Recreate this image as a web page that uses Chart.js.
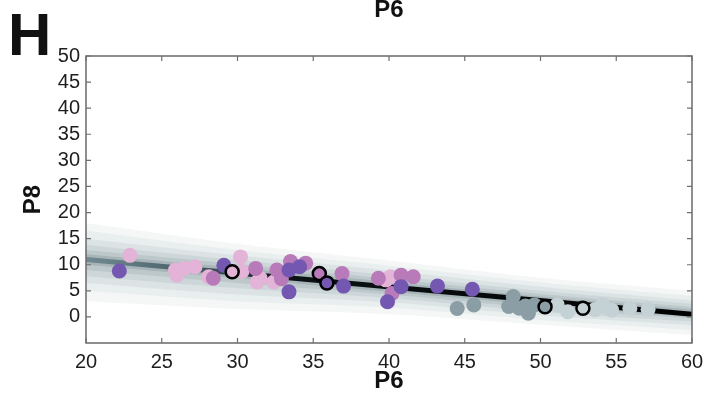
<!DOCTYPE html>
<html>
<head>
<meta charset="utf-8">
<script src="https://cdn.jsdelivr.net/npm/chart.js@4.4.1/dist/chart.umd.min.js"></script>
<style>
  html, body { margin: 0; padding: 0; background: #ffffff; }
  #wrap { width: 724px; height: 402px; }
</style>
</head>
<body>
<div id="wrap"><canvas id="c" width="724" height="402"></canvas></div>
<script>
// ---- tick labels / axis setup ----
const xTicks = [20, 25, 30, 35, 40, 45, 50, 55, 60];
const yTicks = [0, 5, 10, 15, 20, 25, 30, 35, 40, 45, 50];
const panelLetter = 'H';
const titleText = 'P6';
const xTitle = 'P6';
const yTitle = 'P8';

// ---- scatter groups (x = P6, y = P8) ----
const lightPinkX = [22.9, 25.9, 26.5, 27.2, 26.0, 28.1, 30.2, 30.3, 31.5, 31.3, 32.4, 39.8, 40.1];
const lightPinkY = [11.8, 9.0, 9.3, 9.6, 8.0, 7.7, 11.5, 8.7, 7.4, 6.7, 6.7, 7.1, 7.7];

const orchidX = [28.4, 31.2, 32.6, 32.9, 33.5, 34.5, 36.9, 39.3, 40.8, 41.6, 40.2];
const orchidY = [7.4, 9.3, 9.0, 7.3, 10.6, 10.3, 8.3, 7.4, 8.0, 7.7, 4.5];

const purpleX = [22.2, 29.1, 33.4, 34.1, 33.4, 37.0, 39.9, 40.8, 43.2, 45.5];
const purpleY = [8.8, 9.9, 9.0, 9.6, 4.8, 5.9, 2.9, 5.8, 5.9, 5.3];

const greyX = [44.5, 45.6, 48.2, 47.9, 48.6, 49.2, 49.6, 49.0];
const greyY = [1.6, 2.3, 3.9, 2.0, 1.65, 0.7, 2.3, 2.1];

const lightGreyX = [51.1, 51.8, 54.1, 54.7, 55.9, 57.1, 53.6];
const lightGreyY = [2.3, 1.0, 2.3, 1.3, 1.65, 1.45, 1.4];

const hollowX = [29.65, 35.4, 35.9, 50.3, 52.8];
const hollowY = [8.65, 8.3, 6.5, 1.95, 1.65];
const hollowFill = ['#e3b3d8', '#b87ab8', '#7357b1', '#8b9ea5', '#c4d1d5'];

// ---- fitted line and density bands (estimated) ----
const fitX = [20, 60];
const fitY = [11.0, 0.5];
const bandX = [20, 30, 40, 50, 60];
const band1Hi = [18.0, 14.0, 10.8, 7.5, 5.0];
const band1Lo = [3.0, 1.5, 0.5, -1.5, -3.5];
const band2Hi = [16.5, 12.8, 9.8, 6.6, 4.0];
const band2Lo = [5.0, 3.0, 1.8, -0.6, -2.5];
const band3Hi = [15.0, 11.8, 8.9, 5.8, 3.2];
const band3Lo = [6.5, 4.3, 2.8, 0.3, -1.6];
const band4Hi = [13.8, 10.9, 8.0, 5.0, 2.5];
const band4Lo = [7.8, 5.5, 3.6, 1.0, -0.9];
const band5Hi = [12.8, 10.1, 7.3, 4.4, 1.9];
const band5Lo = [9.0, 6.5, 4.3, 1.7, -0.3];
const band6Hi = [12.0, 9.4, 6.7, 3.9, 1.4];
const band6Lo = [10.0, 7.4, 4.8, 2.3, 0.0];

const pts = (xs, ys) => xs.map((x, i) => ({ x, y: ys[i] }));
const FONT = "'Liberation Sans', Arial, Helvetica, sans-serif";

const datasets = [];
function addBand(hi, lo, color, order) {
  const idx = datasets.length;
  datasets.push({
    type: 'scatter', data: pts(bandX, hi), showLine: true, borderWidth: 0,
    borderColor: 'rgba(0,0,0,0)', pointRadius: 0, tension: 0.3,
    fill: { target: idx + 1 }, backgroundColor: color, order
  });
  datasets.push({
    type: 'scatter', data: pts(bandX, lo), showLine: true, borderWidth: 0,
    borderColor: 'rgba(0,0,0,0)', pointRadius: 0, tension: 0.3,
    fill: false, order
  });
}
addBand(band1Hi, band1Lo, 'rgba(80,115,125,0.06)', 30);
addBand(band2Hi, band2Lo, 'rgba(75,110,120,0.07)', 29);
addBand(band3Hi, band3Lo, 'rgba(65,100,110,0.08)', 28);
addBand(band4Hi, band4Lo, 'rgba(55,90,100,0.09)', 27);
addBand(band5Hi, band5Lo, 'rgba(45,75,85,0.11)', 26);
addBand(band6Hi, band6Lo, 'rgba(35,60,68,0.14)', 25);

datasets.push({
  type: 'scatter', data: pts(fitX, fitY), showLine: true, pointRadius: 0,
  borderWidth: 5, fill: false, order: 10,
  borderColor: (ctx) => {
    const chart = ctx.chart; const area = chart.chartArea;
    if (!area) return '#000';
    const xs = chart.scales.x;
    const g = chart.ctx.createLinearGradient(xs.getPixelForValue(20), 0, xs.getPixelForValue(60), 0);
    g.addColorStop(0, 'rgba(60,95,105,0.5)');
    g.addColorStop(0.2, 'rgba(35,60,68,0.8)');
    g.addColorStop(0.33, '#0c1315');
    g.addColorStop(1, '#000000');
    return g;
  }
});

function addGroup(xs, ys, color, order) {
  datasets.push({
    type: 'scatter', data: pts(xs, ys), backgroundColor: color, borderWidth: 0,
    pointRadius: 7.5, pointHoverRadius: 7.5, order
  });
}
addGroup(lightPinkX, lightPinkY, '#e3b3d8', 6);
addGroup(orchidX, orchidY, '#b87ab8', 5);
addGroup(purpleX, purpleY, '#7357b1', 4);
addGroup(greyX, greyY, '#8b9ea5', 4);
addGroup(lightGreyX, lightGreyY, '#c4d1d5', 4);
datasets.push({
  type: 'scatter', data: pts(hollowX, hollowY), backgroundColor: hollowFill,
  borderColor: '#000', borderWidth: 2.5, pointRadius: 6.5, pointHoverRadius: 6.5, order: 1
});

const framePlugin = {
  id: 'frame',
  afterDatasetsDraw(chart) {
    const { ctx, chartArea: a, scales } = chart;
    ctx.save();
    ctx.strokeStyle = '#6a6a6a';
    ctx.lineWidth = 1.5;
    ctx.strokeRect(a.left, a.top, a.right - a.left, a.bottom - a.top);
    ctx.lineWidth = 1.2;
    ctx.strokeStyle = '#707070';
    ctx.beginPath();
    xTicks.forEach(v => {
      const p = scales.x.getPixelForValue(v);
      ctx.moveTo(p, a.bottom); ctx.lineTo(p, a.bottom - 5);
      ctx.moveTo(p, a.top); ctx.lineTo(p, a.top + 5);
    });
    yTicks.forEach(v => {
      const p = scales.y.getPixelForValue(v);
      ctx.moveTo(a.left, p); ctx.lineTo(a.left + 5, p);
      ctx.moveTo(a.right, p); ctx.lineTo(a.right - 5, p);
    });
    ctx.stroke();
    ctx.restore();
  },
  afterDraw(chart) {
    const { ctx } = chart;
    ctx.save();
    ctx.fillStyle = '#111';
    ctx.textBaseline = 'alphabetic';
    ctx.font = 'bold 60px ' + FONT;
    ctx.textAlign = 'left';
    ctx.fillText(panelLetter, 8, 55);
    ctx.font = 'bold 24px ' + FONT;
    ctx.textAlign = 'center';
    ctx.fillText(titleText, 389, 17);
    ctx.restore();
  }
};

new Chart(document.getElementById('c'), {
  type: 'scatter',
  data: { datasets },
  options: {
    responsive: false,
    devicePixelRatio: 1,
    animation: false,
    events: [],
    layout: { padding: { left: 0, top: 56, right: 32, bottom: 0 } },
    plugins: { legend: { display: false }, tooltip: { enabled: false } },
    scales: {
      x: {
        type: 'linear', min: 20, max: 60,
        grid: { display: false, drawTicks: false },
        border: { display: false },
        afterBuildTicks: (s) => { s.ticks = xTicks.map(v => ({ value: v })); },
        afterFit: (s) => { s.height = 59; },
        ticks: { font: { size: 20, family: FONT }, color: '#1e1e1e', padding: 7, maxRotation: 0, autoSkip: false },
        title: { display: true, text: xTitle, font: { size: 24, weight: 'bold', family: FONT }, color: '#111', padding: { top: 0, bottom: 6 } }
      },
      y: {
        type: 'linear', min: -5, max: 50,
        grid: { display: false, drawTicks: false },
        border: { display: false },
        afterBuildTicks: (s) => { s.ticks = yTicks.map(v => ({ value: v })); },
        afterFit: (s) => { s.width = 86; },
        ticks: { font: { size: 20, family: FONT }, color: '#1e1e1e', padding: 6, autoSkip: false },
        title: { display: true, text: yTitle, font: { size: 24, weight: 'bold', family: FONT }, color: '#111', padding: { top: 19, bottom: 0 } }
      }
    }
  },
  plugins: [framePlugin]
});
</script>
</body>
</html>
